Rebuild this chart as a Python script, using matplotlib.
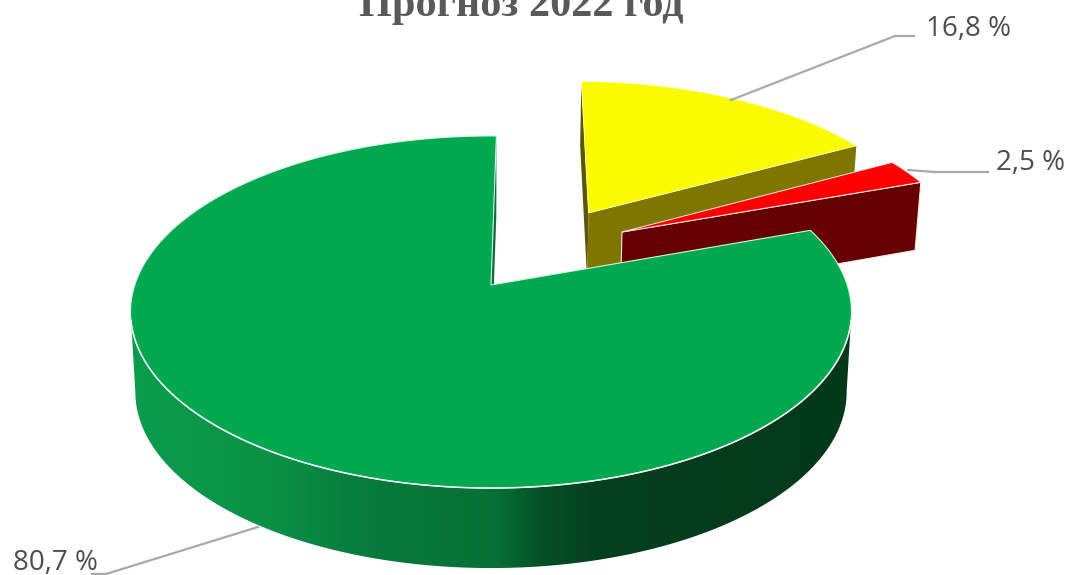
import numpy as np
import matplotlib
matplotlib.use("Agg")
import matplotlib.pyplot as plt
from matplotlib.colors import LinearSegmentedColormap
from matplotlib.patches import Polygon

# ---- data ----
title = "Прогноз 2022 год"
categories = ["Жёлтый", "Красный", "Зелёный"]
shares = [16.8, 2.5, 80.7]
labels = ["16,8 %", "2,5 %", "80,7 %"]

# ---- style / projection ----
YEL, YEL_WALL, YEL_WALL2 = "#FBFB00", "#7F7600", "#5C5600"
RED, RED_WALL = "#FF0000", "#660000"
GRN = "#00A84F"
GREY = "#595959"
LINE = "#A9A9A9"
X0, Y0, K, A, B = 491.0, 285.0, 0.1534, 171.9, 356.2
START = np.radians(1.0)
EXPLODE = [(0.2926, 0.4477), (0.386, 0.3235), (0.0, 0.0)]


def top(u, v):
    d = 1 + K * v
    return X0 + B * u / d, Y0 - A * v / d


def bottom(u, v, dy=80.0, sy=1.0):
    d = 1 + K * v
    return X0 + 0.9866 * B * u / d, Y0 + dy - sy * A * v / d


fig = plt.figure(figsize=(10.71, 5.75), dpi=100)
ax = fig.add_axes([0, 0, 1, 1])
ax.set_xlim(0, 1071)
ax.set_ylim(575, 0)
ax.axis("off")

edges = START + 2 * np.pi * np.concatenate([[0], np.cumsum(shares)]) / np.sum(shares)


def sector(i, n=400):
    t = np.linspace(edges[i], edges[i + 1], n)
    du, dv = EXPLODE[i]
    u = np.concatenate([[du], du + np.sin(t), [du]])
    v = np.concatenate([[dv], dv + np.cos(t), [dv]])
    return u, v, t


def cut_wall(i, angle, color, dy, sy, z, ec="none"):
    du, dv = EXPLODE[i]
    us = np.array([du, du + np.sin(angle)])
    vs = np.array([dv, dv + np.cos(angle)])
    tx, ty = top(us, vs)
    bx, by = bottom(us, vs, dy, sy)
    ax.fill(np.r_[tx, bx[::-1]], np.r_[ty, by[::-1]], fc=color, ec=ec, lw=0.8, zorder=z)


# yellow slice
cut_wall(0, edges[0], YEL_WALL2, 72, 1.039, 1)
cut_wall(0, edges[1], YEL_WALL, 72, 1.039, 1)
u, v, _ = sector(0)
ax.fill(*top(u, v), fc=YEL, ec="#FFFFC8", lw=0.6, zorder=2)

# red slice
cut_wall(1, edges[2], RED_WALL, 72, 1.039, 3, ec="#FFE8E8")
u, v, _ = sector(1)
ax.fill(*top(u, v), fc=RED, ec="#FFE8E8", lw=0.7, zorder=4)

# green slice: outer wall, shaded smoothly across the screen
wall_cmap = LinearSegmentedColormap.from_list(
    "wall",
    [(0.00, "#0A9C4C"), (0.20, "#0A9146"), (0.29, "#087F3E"), (0.51, "#066F35"),
     (0.57, "#055028"), (0.64, "#04401F"), (0.80, "#033C1C"), (1.00, "#03391B")],
)
_, _, t = sector(2, 1440)
tu, tv = np.sin(t), np.cos(t)
tx, ty = top(tu, tv)
bx, by = bottom(tu, tv)
i_right, i_left = int(np.argmax(tx)), int(np.argmin(tx))
outline = np.r_[np.c_[tx[i_right:i_left + 1], ty[i_right:i_left + 1]],
                np.c_[bx[i_right:i_left + 1], by[i_right:i_left + 1]][::-1]]
patch = Polygon(outline, closed=True, fc="none", ec="none", transform=ax.transData)
ax.add_patch(patch)
im = ax.imshow(np.linspace(0, 1, 512)[None, :], cmap=wall_cmap, aspect="auto",
               extent=(tx.min(), tx.max(), 575, 0), zorder=5, interpolation="bilinear")
im.set_clip_path(patch)
ax.set_xlim(0, 1071)
ax.set_ylim(575, 0)

cut_wall(2, edges[3], "#0B6B3A", 80, 1.0, 5)
u, v, _ = sector(2)
ax.fill(*top(u, v), fc=GRN, ec="#D8F5E4", lw=0.8, zorder=6)
front = ty > 320
ax.plot(tx[front], ty[front], color="#F2FBF5", lw=1.1, zorder=6.5)

# leader lines
ax.plot([914, 895, 731], [36, 36, 100], color=LINE, lw=1.6, zorder=7)
ax.plot([988, 935, 908], [172, 172, 170], color=LINE, lw=1.6, zorder=3.5)
ax.plot([92, 106, 258], [574, 574, 527], color=LINE, lw=1.6, zorder=7)

# text
ax.text(521, 16, title, family="Liberation Serif", weight="bold", fontsize=30.4,
        color=GREY, ha="center", va="baseline", zorder=8)
for s, x, y in zip(labels, (968, 1030, 55), (36, 170, 570)):
    ax.text(x, y, s, family="Open Sans", fontsize=20, color="#4D4D4D",
            ha="center", va="baseline", zorder=8)

fig.savefig("out.png", dpi=100, facecolor="white")
